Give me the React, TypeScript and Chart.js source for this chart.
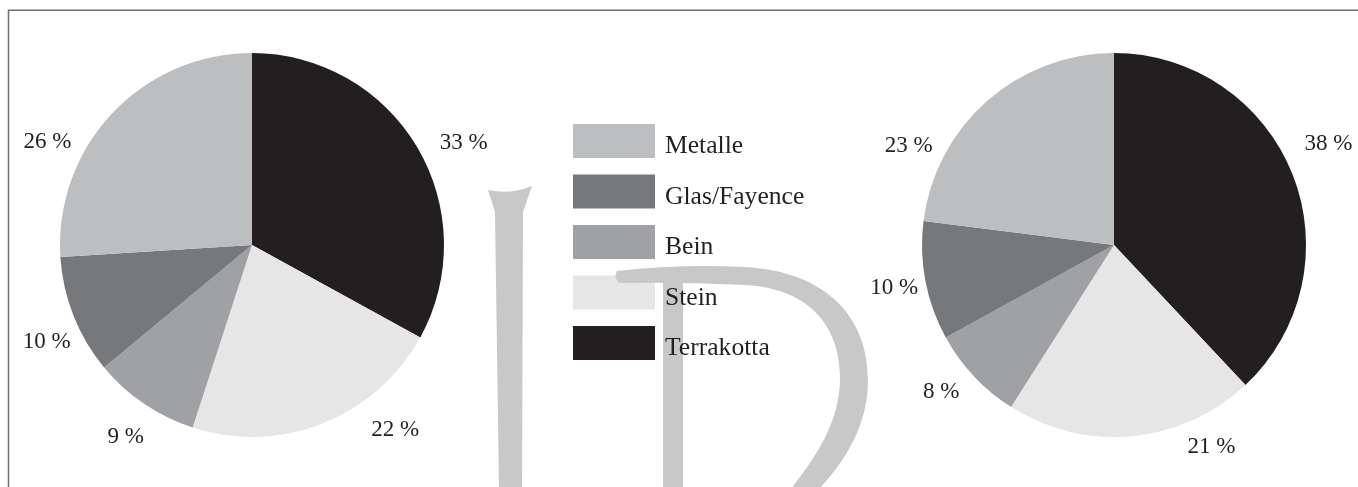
import React, { useEffect, useRef } from "react";
import { Chart, registerables } from "chart.js";

Chart.register(...registerables);

// ---- data ----
const categories = ["Terrakotta", "Stein", "Bein", "Glas/Fayence", "Metalle"];
const leftValues = [33, 22, 9, 10, 26];
const rightValues = [38, 21, 8, 10, 23];
const legendOrder = ["Metalle", "Glas/Fayence", "Bein", "Stein", "Terrakotta"];
const sliceColors = ["#231f20", "#e6e6e6", "#a0a1a4", "#77787b", "#bcbec0"];

const W = 1358;
const H = 487;
const FONT = '"Liberation Serif", "DejaVu Serif", serif';
const TEXT_COLOR = "#231f20";

// label placement (angle clockwise from 12 o'clock, and gap outside the rim)
function makeLabelPlugin(angles: number[], gaps: number[]) {
  return {
    id: "pctLabels",
    afterDatasetsDraw(chart: any) {
      const meta = chart.getDatasetMeta(0);
      const ds = chart.data.datasets[0];
      const ctx = chart.ctx;
      ctx.save();
      ctx.font = `23px ${FONT}`;
      ctx.fillStyle = TEXT_COLOR;
      ctx.textAlign = "center";
      ctx.textBaseline = "middle";
      meta.data.forEach((arc: any, i: number) => {
        const { x, y, outerRadius } = arc.getProps(["x", "y", "outerRadius"], true);
        const a = (angles[i] * Math.PI) / 180;
        const d = outerRadius + gaps[i];
        ctx.fillText(`${ds.data[i]} %`, x + d * Math.sin(a), y - d * Math.cos(a));
      });
      ctx.restore();
    },
  };
}

function drawWatermark(ctx: CanvasRenderingContext2D) {
  ctx.save();
  ctx.fillStyle = "#c8c8c8";
  // "I"
  ctx.beginPath();
  ctx.moveTo(488, 190);
  ctx.quadraticCurveTo(510, 195, 532, 186);
  ctx.lineTo(523, 212);
  ctx.lineTo(522, H + 2);
  ctx.lineTo(499, H + 2);
  ctx.lineTo(495, 212);
  ctx.closePath();
  ctx.fill();
  // "D" stem
  ctx.fillRect(663, 270, 20, H - 268);
  // "D" bowl
  ctx.beginPath();
  ctx.moveTo(617, 271);
  ctx.quadraticCurveTo(680, 264, 745, 267);
  ctx.bezierCurveTo(830, 272, 868, 320, 868, 380);
  ctx.bezierCurveTo(868, 425, 845, 462, 818, H + 3);
  ctx.lineTo(790, H + 3);
  ctx.bezierCurveTo(818, 455, 840, 420, 840, 378);
  ctx.bezierCurveTo(840, 322, 805, 288, 745, 285);
  ctx.quadraticCurveTo(680, 282, 619, 283);
  ctx.quadraticCurveTo(613, 277, 617, 271);
  ctx.closePath();
  ctx.fill();
  ctx.restore();
}

const decorPlugin = {
  id: "decor",
  afterDraw(chart: any) {
    const ctx: CanvasRenderingContext2D = chart.ctx;
    const labels: string[] = chart.data.labels;
    const colors: string[] = chart.data.datasets[0].backgroundColor;
    ctx.save();
    // frame
    ctx.strokeStyle = "#6e6e6e";
    ctx.lineWidth = 1.5;
    ctx.beginPath();
    ctx.moveTo(8.5, H);
    ctx.lineTo(8.5, 10.25);
    ctx.lineTo(W, 10.25);
    ctx.stroke();
    // legend boxes
    legendOrder.forEach((name, k) => {
      const i = labels.indexOf(name);
      ctx.fillStyle = colors[i];
      ctx.fillRect(573, 124 + k * 50.5, 82, 34);
    });
    drawWatermark(ctx);
    // legend text
    ctx.fillStyle = TEXT_COLOR;
    ctx.font = `25.6px ${FONT}`;
    ctx.textAlign = "left";
    ctx.textBaseline = "alphabetic";
    legendOrder.forEach((name, k) => {
      ctx.fillText(name, 665, 124 + k * 50.5 + 29);
    });
    ctx.restore();
  },
};

function pieConfig(values: number[], padding: any, plugins: any[]) {
  return {
    type: "pie" as const,
    data: {
      labels: categories,
      datasets: [
        {
          data: values,
          backgroundColor: sliceColors,
          borderWidth: 0,
        },
      ],
    },
    options: {
      responsive: false,
      animation: false as const,
      events: [],
      layout: { padding },
      plugins: {
        legend: { display: false },
        tooltip: { enabled: false },
      },
    },
    plugins,
  };
}

export default function App() {
  const leftRef = useRef<HTMLCanvasElement>(null);
  const rightRef = useRef<HTMLCanvasElement>(null);

  useEffect(() => {
    const left = new Chart(
      leftRef.current!,
      pieConfig(
        leftValues,
        { left: 60, right: W - 444, top: 53, bottom: H - 437 },
        [decorPlugin, makeLabelPlugin([64.3, 142.3, 213.3, 244.7, 296.7], [43, 42, 38, 35, 37])]
      ) as any
    );
    const right = new Chart(
      rightRef.current!,
      pieConfig(
        rightValues,
        { left: 922, right: W - 1306, top: 53, bottom: H - 437 },
        [makeLabelPlugin([64.8, 154.2, 229.6, 258.9, 295.8], [45, 32, 35, 32, 36])]
      ) as any
    );
    return () => {
      left.destroy();
      right.destroy();
    };
  }, []);

  return (
    <div
      style={{
        position: "absolute",
        left: 0,
        top: 0,
        width: W,
        height: H,
        overflow: "hidden",
        background: "#ffffff",
      }}
    >
      <canvas ref={leftRef} width={W} height={H} style={{ position: "absolute", left: 0, top: 0 }} />
      <canvas ref={rightRef} width={W} height={H} style={{ position: "absolute", left: 0, top: 0 }} />
    </div>
  );
}
